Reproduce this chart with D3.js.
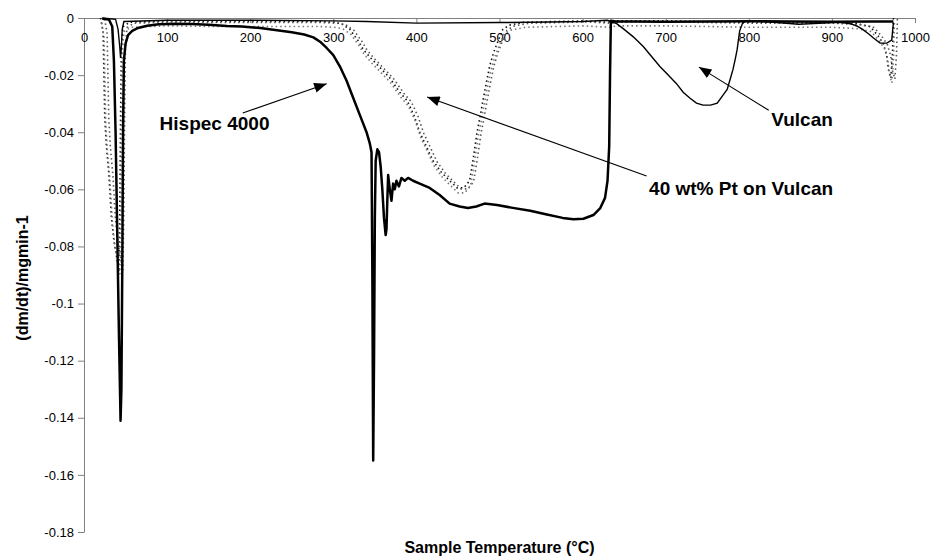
<!DOCTYPE html>
<html><head><meta charset="utf-8">
<script src="https://cdn.jsdelivr.net/npm/d3@7"></script>
<style>body{margin:0;background:#fff} svg{display:block} text{font-family:Arial,"Liberation Sans",sans-serif}</style>
</head><body><svg id="c" width="932" height="556"></svg>
<script>
const xTicks=[0,100,200,300,400,500,600,700,800,900,1000];
const yTicks=[0,-0.02,-0.04,-0.06,-0.08,-0.1,-0.12,-0.14,-0.16,-0.18];
const yTickLabels=["0","-0.02","-0.04","-0.06","-0.08","-0.1","-0.12","-0.14","-0.16","-0.18"];
const seriesNames=["Hispec 4000","40 wt% Pt on Vulcan","Vulcan"];
const xTitle="Sample Temperature (°C)";
const yTitle="(dm/dt)/mgmin-1";

const hispecT=[22,30,34,36,38,40,42,44,45,46,47,48,50,53,58,65,76,90,110,130,150,172,190,212,230,250,265,276,285,292,300,308,316,324,332,340,344,346,347,348,349,350,351,353,355,357,359,361,363,364,365,366,368,370,372,374,376,379,382,386,390,396,404,416,428,440,452,462,472,482,497,516,537,557,576,589,601,613,621,627,630,632,633,634,640,660,700,750,800,850,900,950,974];
const hispecV=[-0.0003,-0.0005,-0.003,-0.015,-0.04,-0.075,-0.11,-0.141,-0.13,-0.09,-0.04,-0.015,-0.009,-0.006,-0.0045,-0.0035,-0.0027,-0.0022,-0.002,-0.0021,-0.0024,-0.0028,-0.003,-0.0035,-0.0042,-0.005,-0.0058,-0.0068,-0.0085,-0.0105,-0.013,-0.017,-0.022,-0.028,-0.034,-0.04,-0.044,-0.047,-0.09,-0.155,-0.12,-0.07,-0.05,-0.046,-0.047,-0.052,-0.06,-0.07,-0.076,-0.074,-0.064,-0.055,-0.06,-0.064,-0.058,-0.06,-0.057,-0.059,-0.056,-0.057,-0.056,-0.057,-0.058,-0.0595,-0.062,-0.065,-0.066,-0.0665,-0.066,-0.065,-0.0655,-0.0665,-0.0675,-0.0688,-0.070,-0.0705,-0.0703,-0.069,-0.0667,-0.063,-0.057,-0.045,-0.02,-0.001,-0.0012,-0.0012,-0.0013,-0.0012,-0.0011,-0.0012,-0.0013,-0.0012,-0.0012];

const ptT=[20,23,25,27,30,33,36,40,42,43,44,45,47,55,100,150,200,250,280,300,310,320,330,336,345,355,368,380,389,397,404,412,420,430,440,449,457,464,468,473,477,480,484,488,493,497,504,512,530,600,630,640,700,800,900,930,946,955,962,966,968,971,973,974];
const ptV=[0,-0.005,-0.035,-0.045,-0.055,-0.07,-0.078,-0.085,-0.088,-0.07,-0.035,-0.01,-0.003,-0.0015,-0.001,-0.0012,-0.0012,-0.0012,-0.0012,-0.0015,-0.002,-0.004,-0.008,-0.011,-0.014,-0.017,-0.021,-0.026,-0.029,-0.034,-0.040,-0.045,-0.050,-0.054,-0.057,-0.0595,-0.0595,-0.057,-0.05,-0.04,-0.034,-0.029,-0.023,-0.017,-0.012,-0.009,-0.004,-0.0025,-0.0015,-0.001,-0.0015,-0.001,-0.001,-0.0015,-0.0015,-0.002,-0.003,-0.006,-0.009,-0.013,-0.018,-0.021,-0.012,0];

const vulcanT=[22,38,41,43,44,45,46,48,100,200,300,340,400,500,560,600,630,641,650,661,673,683,693,703,713,721,729,737,745,754,762,769,774,778,781,784,786,789,793,800,830,860,890,910,922,930,937,944,950,958,966,972,974];
const vulcanV=[0,-0.0005,-0.004,-0.010,-0.014,-0.010,-0.004,-0.0012,-0.0008,-0.0008,-0.001,-0.0012,-0.0018,-0.0016,-0.0014,-0.0012,-0.0008,-0.002,-0.004,-0.0066,-0.010,-0.0135,-0.017,-0.020,-0.023,-0.026,-0.028,-0.0298,-0.0305,-0.0305,-0.0298,-0.027,-0.025,-0.021,-0.018,-0.014,-0.011,-0.0045,-0.0014,-0.001,-0.0015,-0.0022,-0.0018,-0.0015,-0.002,-0.0028,-0.004,-0.0055,-0.007,-0.0088,-0.0088,-0.0077,-0.0017];

const svg=d3.select("#c");
const x=d3.scaleLinear().domain([0,1000]).range([84,915]);
const y=d3.scaleLinear().domain([0,-0.18]).range([18,532]);

const defs=svg.append("defs");
defs.append("marker").attr("id","ah").attr("viewBox","0 0 10 8").attr("refX",10).attr("refY",4)
  .attr("markerUnits","userSpaceOnUse").attr("markerWidth",13).attr("markerHeight",10).attr("orient","auto")
  .append("path").attr("d","M0,0L10,4L0,8z").attr("fill","#000");

// axes
const yAxis=svg.append("g").attr("transform",`translate(${x(0)},0)`)
  .call(d3.axisLeft(y).tickValues(yTicks).tickFormat((d,i)=>yTickLabels[i]).tickSize(6).tickSizeOuter(0).tickPadding(4));
yAxis.selectAll("path,line").attr("stroke","#808080");
yAxis.selectAll("text").attr("font-size",13).attr("fill","#000").attr("font-family","Arial,'Liberation Sans',sans-serif");

const xAxis=svg.append("g").attr("transform",`translate(0,${y(0)})`)
  .call(d3.axisBottom(x).tickValues(xTicks).tickFormat(d3.format("d")).tickSize(5).tickSizeOuter(0).tickPadding(10));
xAxis.selectAll("path,line").attr("stroke","#808080");
xAxis.selectAll("text").attr("font-size",13).attr("fill","#000").attr("font-family","Arial,'Liberation Sans',sans-serif");

const line=d3.line().x(d=>x(d[0])).y(d=>y(d[1]));
const hispec=d3.zip(hispecT,hispecV), pt=d3.zip(ptT,ptV), vulcan=d3.zip(vulcanT,vulcanV);

// Pt on Vulcan: dotted noisy band
[[0,0,"#111"],[4,1,"#555"],[1,5,"#777"]].forEach(([dx,dy,c])=>{
  svg.append("path").datum(pt).attr("d",line).attr("transform",`translate(${dx},${dy})`)
    .attr("fill","none").attr("stroke",c).attr("stroke-width",1.6).attr("stroke-dasharray","1.5,3");
});
// Vulcan thin
svg.append("path").datum(vulcan).attr("d",line).attr("fill","none").attr("stroke","#000").attr("stroke-width",1.4);
// Hispec thick
svg.append("path").datum(hispec).attr("d",line).attr("fill","none").attr("stroke","#000").attr("stroke-width",2.5).attr("stroke-linejoin","round");

// annotations
function arrow(t0,v0,t1,v1){
  svg.append("line").attr("x1",x(t0)).attr("y1",y(v0)).attr("x2",x(t1)).attr("y2",y(v1))
    .attr("stroke","#000").attr("stroke-width",1.1).attr("marker-end","url(#ah)");
}
function label(t,v,s){
  svg.append("text").attr("x",x(t)).attr("y",y(v)).attr("font-size",19).attr("font-weight","bold").text(s);
}
label(91,-0.0392,seriesNames[0]);
arrow(191,-0.0333,292,-0.023);
label(680,-0.062,seriesNames[1]);
arrow(677,-0.0553,413,-0.0277);
label(827,-0.0378,seriesNames[2]);
arrow(824,-0.0323,740,-0.0172);

svg.append("text").attr("x",(x(0)+x(1000))/2).attr("y",553).attr("text-anchor","middle")
  .attr("font-size",16).attr("font-weight","bold").text(xTitle);
svg.append("text").attr("transform","translate(28,278) rotate(-90)").attr("text-anchor","middle")
  .attr("font-size",16).attr("font-weight","bold").text(yTitle);
</script></body></html>
